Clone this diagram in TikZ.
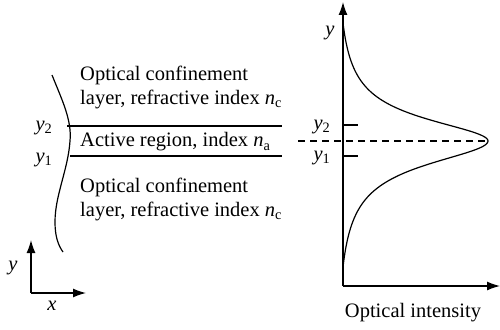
\documentclass[tikz,border=0pt]{standalone}
\usepackage{fontspec}
\setmainfont{Liberation Serif}
\usetikzlibrary{arrows.meta}
\newcommand{\vi}[1]{\textit{#1}}
\newcommand{\subsc}[1]{\textsubscript{#1}}
\begin{document}
\begin{tikzpicture}[x=1pt,y=-1pt,
  lbl/.style={inner sep=0pt,font=\fontsize{20.5}{23}\selectfont},
  txt/.style={inner sep=0pt,anchor=west,font=\fontsize{20.5}{23}\selectfont},
  ax/.style={line width=1.3pt,-{Latex[length=13pt,width=9pt]}},
  thin/.style={line width=1.2pt}]
\useasboundingbox (0,0) rectangle (500,329);
% left: layers
\coordinate (L2a) at (67,126); \coordinate (L2b) at (282,126);
\coordinate (L1a) at (70,156); \coordinate (L1b) at (282,156);
\draw[thin] (L2a) -- (L2b);
\draw[thin] (L1a) -- (L1b);
\coordinate (W0) at (52,75); \coordinate (W1) at (70,141);
\coordinate (W2) at (55,222); \coordinate (W3) at (63,252);
\draw[thin] (W0) .. controls (62,100) and (72,120) .. (W1)
  .. controls (68,170) and (55,195) .. (W2)
  .. controls (55,236) and (58,245) .. (W3);
\node[lbl] (ly2) at (44,128) {\vi{y}\subsc{2}};
\node[lbl] (ly1) at (44,160) {\vi{y}\subsc{1}};
\node[txt] (t1) at (80,75) {Optical confinement};
\node[txt] (t2) at (80,99) {layer, refractive index \vi{n}\subsc{c}};
\node[txt] (t3) at (80,142) {Active region, index \vi{n}\subsc{a}};
\node[txt] (t4) at (80,187) {Optical confinement};
\node[txt] (t5) at (80,211) {layer, refractive index \vi{n}\subsc{c}};
% left axes
\coordinate (O1) at (31,293); \coordinate (Y1) at (31,240); \coordinate (X1) at (86,293);
\draw[ax] (O1) -- (Y1);
\draw[ax] (O1) -- (X1);
\node[lbl] (ly) at (13,268) {\vi{y}};
\node[lbl] (lx) at (52,306) {\vi{x}};
% right plot
\coordinate (O2) at (343,286); \coordinate (Y2) at (343,2); \coordinate (X2) at (500,286);
\draw[ax] (O2) -- (Y2);
\draw[ax] (O2) -- (X2);
\node[lbl] (ry) at (330,33) {\vi{y}};
\coordinate (T2a) at (343,125); \coordinate (T2b) at (358,125);
\coordinate (T1a) at (343,156); \coordinate (T1b) at (358,156);
\draw[thin] (T2a) -- (T2b);
\draw[thin] (T1a) -- (T1b);
\node[lbl] (ry2) at (322,127) {\vi{y}\subsc{2}};
\node[lbl] (ry1) at (322,158) {\vi{y}\subsc{1}};
\coordinate (D0) at (298,141); \coordinate (Pk) at (488,141);
\draw[thin,dash pattern=on 7pt off 5pt] (D0) -- (Pk);
\draw[thin] plot[domain=23:141,samples=120,smooth] ({343+145*((1/(1+((\x-141)/27)^2))-0.0498)/(1-0.0498)},\x);
\draw[thin] plot[domain=141:267,samples=120,smooth] ({343+145*((1/(1+((\x-141)/29)^2))-0.0503)/(1-0.0503)},\x);
\node[lbl] (oi) at (413,313) {Optical intensity};
\end{tikzpicture}
\end{document}
